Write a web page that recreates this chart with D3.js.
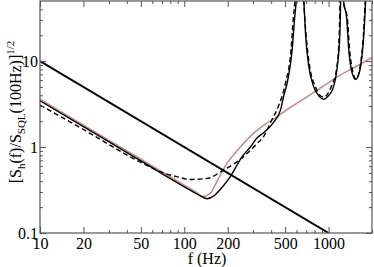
<!DOCTYPE html>
<html>
<head>
<meta charset="utf-8">
<script src="https://cdn.jsdelivr.net/npm/d3@7"></script>
<style>
  body { margin: 0; background: #fff; }
  text { font-family: "Liberation Serif", "DejaVu Serif", serif; fill: #000; }
</style>
</head>
<body>
<div id="chart"></div>
<script>
// straight reference line
const lineF = [10, 1000];
const lineV = [10, 0.1];

// conventional interferometer (pink)
const pinkF = [10, 20, 50, 100, 120, 133, 150, 170, 198, 225, 250, 290, 356, 417, 520, 640, 711, 900, 1211, 1600, 2000];
const pinkV = [3.6, 1.8, 0.72, 0.36, 0.3, 0.265, 0.285, 0.41, 0.65, 0.85, 1.04, 1.36, 1.8, 2.12, 2.75, 3.45, 3.85, 5.0, 6.9, 8.9, 11];

// solid black curve
const solidF = [10, 20, 50, 100, 125, 144, 160, 180, 208, 251, 287, 320, 356, 417, 464, 490, 516, 559, 582, 597, 635, 674, 692, 730, 790, 860, 927, 990, 1061, 1149, 1198, 1212, 1241, 1270, 1334, 1381, 1459, 1541, 1600, 1667, 1758, 1808, 1950];
const solidV = [3.45, 1.73, 0.69, 0.345, 0.28, 0.25, 0.27, 0.33, 0.45, 0.77, 1.0, 1.28, 1.48, 1.95, 2.69, 4.0, 5.5, 13.4, 32, 50, 400, 50, 21, 8.6, 5.0, 3.9, 3.6, 3.9, 4.6, 8.6, 21, 50, 400, 50, 32, 13.4, 7.2, 6.1, 6.6, 8.6, 21, 50, 400];

// dashed black curve
const dashF = [10, 20, 49, 72, 90, 110, 143, 187, 232, 272, 320, 356, 404, 448, 502, 549, 570, 585, 630, 672, 697, 740, 812, 870, 927, 980, 1041, 1143, 1186, 1200, 1235, 1265, 1348, 1400, 1483, 1541, 1600, 1655, 1746, 1795, 1950];
const dashV = [3.08, 1.6, 0.675, 0.5, 0.45, 0.42, 0.43, 0.54, 0.675, 0.84, 1.1, 1.34, 2.06, 2.94, 5.5, 13.4, 32, 50, 400, 50, 21, 8.6, 5.0, 4.0, 3.8, 4.1, 5.0, 8.6, 21, 50, 400, 50, 32, 13.4, 7.2, 6.2, 6.7, 8.6, 21, 50, 400];

const xMajor = [10, 20, 50, 100, 200, 500, 1000];
const xMinor = [30, 40, 60, 70, 80, 90, 300, 400, 600, 700, 800, 900, 2000];
const yMajor = [0.1, 1, 10];
const yMinor = [0.2, 0.3, 0.4, 0.5, 0.6, 0.7, 0.8, 0.9, 2, 3, 4, 5, 6, 7, 8, 9, 20, 30, 40];

const W = 374, H = 267;
const m = { left: 40, right: 2, top: 1, bottom: 34 };

const svg = d3.select("#chart").append("svg")
  .attr("width", W)
  .attr("height", H);

const x = d3.scaleLog().domain([10, 2000]).range([m.left, W - m.right]);
const y = d3.scaleLog().domain([0.1, 50]).range([H - m.bottom, m.top]);

svg.append("clipPath").attr("id", "clip")
  .append("rect")
  .attr("x", m.left).attr("y", m.top)
  .attr("width", W - m.left - m.right)
  .attr("height", H - m.top - m.bottom);

const zip = (fs, vs) => fs.map((f, i) => [f, vs[i]]);

const line = d3.line()
  .x(d => x(d[0]))
  .y(d => y(d[1]))
  .curve(d3.curveMonotoneX);

const plot = svg.append("g").attr("clip-path", "url(#clip)");

plot.append("path")
  .datum(zip(pinkF, pinkV))
  .attr("d", line)
  .attr("fill", "none")
  .attr("stroke", "#c09090")
  .attr("stroke-width", 1.6);

plot.append("path")
  .datum(zip(dashF, dashV))
  .attr("d", line)
  .attr("fill", "none")
  .attr("stroke", "#000")
  .attr("stroke-width", 1.4)
  .attr("stroke-dasharray", "5,3");

plot.append("path")
  .datum(zip(solidF, solidV))
  .attr("d", line)
  .attr("fill", "none")
  .attr("stroke", "#000")
  .attr("stroke-width", 1.4);

plot.append("path")
  .datum(zip(lineF, lineV))
  .attr("d", d3.line().x(d => x(d[0])).y(d => y(d[1])))
  .attr("fill", "none")
  .attr("stroke", "#000")
  .attr("stroke-width", 2);

// axes: ticks inward on all four sides
const axisColor = "#555";
function styleAxis(g) {
  g.select(".domain").remove();
  g.selectAll("line").attr("stroke", axisColor);
  g.selectAll("text").style("font-size", "16px").attr("fill", "#000");
}

const yb = H - m.bottom, yt = m.top, xl = m.left, xr = W - m.right;

svg.append("g").attr("transform", `translate(0,${yb})`)
  .call(d3.axisBottom(x).tickValues(xMajor).tickFormat(d3.format("d")).tickSizeInner(-6).tickSizeOuter(0).tickPadding(5))
  .call(styleAxis);
svg.append("g").attr("transform", `translate(0,${yb})`)
  .call(d3.axisBottom(x).tickValues(xMinor).tickFormat("").tickSizeInner(-3).tickSizeOuter(0))
  .call(styleAxis);
svg.append("g").attr("transform", `translate(0,${yt})`)
  .call(d3.axisTop(x).tickValues(xMajor).tickFormat("").tickSizeInner(-6).tickSizeOuter(0))
  .call(styleAxis);
svg.append("g").attr("transform", `translate(0,${yt})`)
  .call(d3.axisTop(x).tickValues(xMinor).tickFormat("").tickSizeInner(-3).tickSizeOuter(0))
  .call(styleAxis);

svg.append("g").attr("transform", `translate(${xl},0)`)
  .call(d3.axisLeft(y).tickValues(yMajor).tickFormat(d => d).tickSizeInner(-6).tickSizeOuter(0).tickPadding(2))
  .call(styleAxis);
svg.append("g").attr("transform", `translate(${xl},0)`)
  .call(d3.axisLeft(y).tickValues(yMinor).tickFormat("").tickSizeInner(-3).tickSizeOuter(0))
  .call(styleAxis);
svg.append("g").attr("transform", `translate(${xr},0)`)
  .call(d3.axisRight(y).tickValues(yMajor).tickFormat("").tickSizeInner(-6).tickSizeOuter(0))
  .call(styleAxis);
svg.append("g").attr("transform", `translate(${xr},0)`)
  .call(d3.axisRight(y).tickValues(yMinor).tickFormat("").tickSizeInner(-3).tickSizeOuter(0))
  .call(styleAxis);

// frame
svg.append("rect")
  .attr("x", xl).attr("y", yt)
  .attr("width", xr - xl).attr("height", yb - yt)
  .attr("fill", "none")
  .attr("stroke", axisColor)
  .attr("stroke-width", 1.2);

// axis labels
svg.append("text")
  .attr("x", 207)
  .attr("y", 264)
  .attr("text-anchor", "middle")
  .style("font-size", "16px")
  .text("f (Hz)");

const yl = svg.append("text")
  .attr("transform", "translate(21,112) rotate(-90)")
  .attr("text-anchor", "middle")
  .style("font-size", "16px");
yl.append("tspan").text("[S");
yl.append("tspan").attr("dy", 4).style("font-size", "11px").text("h");
yl.append("tspan").attr("dy", -4).text("(f)/S");
yl.append("tspan").attr("dy", 4).style("font-size", "11px").text("SQL");
yl.append("tspan").attr("dy", -4).text("(100Hz)]");
yl.append("tspan").attr("dy", -7).style("font-size", "11px").text("1/2");
</script>
</body>
</html>
